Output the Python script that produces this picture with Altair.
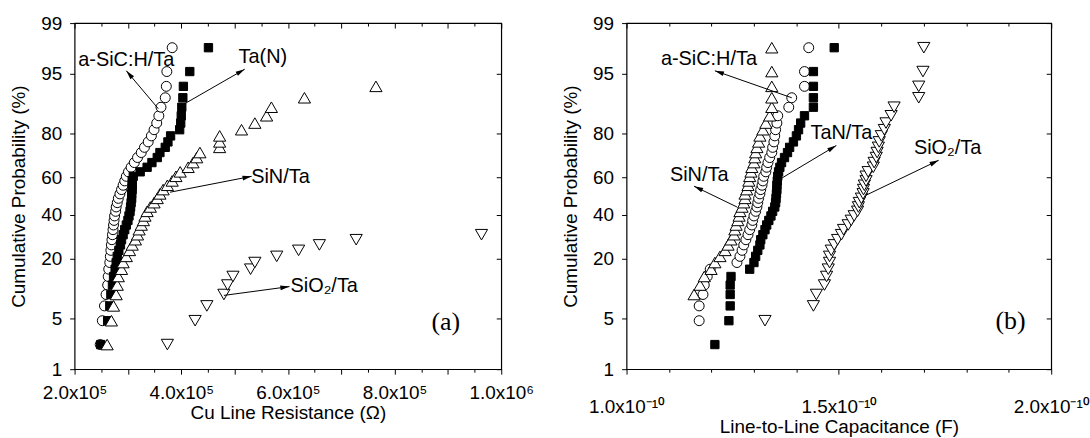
import math
from statistics import NormalDist
import altair as alt
import pandas as pd

ND = NormalDist()

# ---------------- data ----------------
# cumulative-probability levels (%) of the plotted ranks
P = [2.3, 4.7, 7.0, 9.3, 11.6, 14.0, 16.3, 18.6, 20.9, 23.3, 25.6, 27.9, 30.2, 32.6,
     34.9, 37.2, 39.5, 41.9, 44.2, 46.5, 48.8, 51.2, 53.5, 55.8, 58.1, 60.5, 62.8,
     65.1, 67.4, 69.8, 72.1, 74.4, 76.7, 79.1, 81.4, 83.7, 86.0, 88.4, 90.7, 93.0,
     95.3, 97.7]

# panel (a): Cu line resistance (ohm)
res_asich = [248000, 252000, 256000, 259000, 262000, 263000, 264000, 266000, 267000, 268000,
             269000, 270000, 271000, 272000, 273000, 274000, 275000, 277000, 278000, 280000,
             282000, 285000, 288000, 291000, 294000, 297000, 301000, 306000, 312000, 318000,
             325000, 331000, 338000, 344000, 349000, 354000, 358000, 362000, 370000, 372000,
             373000, 383000]
res_tan = [249000, 262000, 266000, 268000, 271000, 273000, 276000, 278000, 280000, 283000,
           286000, 288000, 291000, 294000, 297000, 300000, 302000, 304000, 305000, 306000,
           307000, 307000, 308000, 308000, 308000, 310000, 323000, 336000, 345000, 355000,
           360000, 370000, 375000, 380000, 397000, 399000, 400000, 401000, 403000, 404000,
           416000, 451000]
res_sin = [261000, 269000, 273000, 278000, 280000, 282000, 288000, 291000, 297000, 303000,
           308000, 314000, 318000, 321000, 325000, 329000, 332000, 336000, 342000, 349000,
           355000, 360000, 366000, 374000, 383000, 390000, 398000, 413000, 422000, 429000,
           435000, 472000, 472000, 472000, 513000, 538000, 560000, 569000, 631000, 765000]
res_sio2 = [374000, 426000, 448000, 480000, 487000, 497000, 530000, 538000, 579000, 620000,
            659000, 728000, 963000]

# panel (b): line-to-line capacitance (F)
cap_asich = [1.171e-10, 1.171e-10, 1.180e-10, 1.183e-10, 1.190e-10, 1.197e-10, 1.260e-10,
             1.267e-10, 1.272e-10, 1.276e-10, 1.281e-10, 1.286e-10, 1.290e-10, 1.295e-10,
             1.297e-10, 1.300e-10, 1.304e-10, 1.307e-10, 1.309e-10, 1.311e-10, 1.314e-10,
             1.316e-10, 1.319e-10, 1.321e-10, 1.323e-10, 1.328e-10, 1.330e-10, 1.333e-10,
             1.337e-10, 1.342e-10, 1.344e-10, 1.347e-10, 1.349e-10, 1.351e-10, 1.354e-10,
             1.356e-10, 1.382e-10, 1.389e-10, 1.419e-10, 1.419e-10, 1.429e-10]
cap_tan = [1.208e-10, 1.241e-10, 1.244e-10, 1.244e-10, 1.244e-10, 1.246e-10, 1.290e-10,
           1.300e-10, 1.304e-10, 1.309e-10, 1.314e-10, 1.316e-10, 1.321e-10, 1.326e-10,
           1.330e-10, 1.335e-10, 1.340e-10, 1.344e-10, 1.349e-10, 1.351e-10, 1.352e-10,
           1.353e-10, 1.354e-10, 1.354e-10, 1.355e-10, 1.356e-10, 1.358e-10, 1.361e-10,
           1.365e-10, 1.372e-10, 1.379e-10, 1.384e-10, 1.393e-10, 1.400e-10, 1.405e-10,
           1.410e-10, 1.419e-10, 1.440e-10, 1.440e-10, 1.440e-10, 1.440e-10, 1.489e-10]
cap_sin = [1.159e-10, 1.173e-10, 1.183e-10, 1.199e-10, 1.208e-10, 1.220e-10, 1.232e-10,
           1.239e-10, 1.246e-10, 1.253e-10, 1.255e-10, 1.258e-10, 1.262e-10, 1.265e-10,
           1.267e-10, 1.272e-10, 1.276e-10, 1.279e-10, 1.279e-10, 1.283e-10, 1.286e-10,
           1.288e-10, 1.290e-10, 1.293e-10, 1.295e-10, 1.300e-10, 1.302e-10, 1.304e-10,
           1.307e-10, 1.311e-10, 1.314e-10, 1.321e-10, 1.328e-10, 1.337e-10, 1.342e-10,
           1.342e-10, 1.342e-10, 1.342e-10, 1.342e-10]
cap_sio2 = [1.326e-10, 1.440e-10, 1.447e-10, 1.466e-10, 1.471e-10, 1.475e-10, 1.478e-10,
            1.478e-10, 1.482e-10, 1.489e-10, 1.497e-10, 1.506e-10, 1.511e-10, 1.522e-10,
            1.529e-10, 1.536e-10, 1.544e-10, 1.546e-10, 1.548e-10, 1.553e-10, 1.557e-10,
            1.558e-10, 1.560e-10, 1.564e-10, 1.564e-10, 1.569e-10, 1.581e-10, 1.583e-10,
            1.588e-10, 1.590e-10, 1.593e-10, 1.595e-10, 1.600e-10, 1.607e-10, 1.611e-10,
            1.623e-10, 1.630e-10, 1.688e-10, 1.688e-10, 1.698e-10, 1.700e-10]

# axis ticks
y_tick_pct = [1, 5, 20, 40, 60, 80, 95, 99]
x_ticks_a = [200000, 250000, 300000, 350000, 400000, 450000, 500000, 550000, 600000,
             650000, 700000, 750000, 800000, 850000, 900000, 950000, 1000000]
x_ticks_b = [1.0e-10, 1.1e-10, 1.2e-10, 1.3e-10, 1.4e-10, 1.5e-10, 1.6e-10, 1.7e-10,
             1.8e-10, 1.9e-10, 2.0e-10]

# annotations (label, x, probability %)
labels_a = [("a-SiC:H/Ta", 2.97e5, 96.6), ("Ta(N)", 5.53e5, 96.9),
            ("SiN/Ta", 5.86e5, 60.0), ("SiO\u2082/Ta", 6.68e5, 11.4)]
arrows_a = [(3.57e5, 88.0, 2.97e5, 95.4), (4.00e5, 88.8, 5.19e5, 95.6),
            (3.79e5, 52.1, 5.32e5, 60.5), (4.80e5, 9.1, 6.03e5, 11.2)]
tag_a = ("(a)", 8.96e5, 4.5)

labels_b = [("a-SiC:H/Ta", 1.194e-10, 96.7), ("SiN/Ta", 1.171e-10, 61.1),
            ("TaN/Ta", 1.506e-10, 80.0), ("SiO\u2082/Ta", 1.756e-10, 73.9)]
arrows_b = [(1.389e-10, 90.7, 1.208e-10, 95.4), (1.260e-10, 44.2, 1.159e-10, 55.3),
            (1.365e-10, 59.5, 1.494e-10, 75.2), (1.564e-10, 50.5, 1.735e-10, 68.5)]
tag_b = ("(b)", 1.904e-10, 4.6)

# ---------------- layout / style ----------------
H = 348
W_A, W_B = 429, 427
ZDOM = [ND.inv_cdf(0.01), ND.inv_cdf(0.99)]
YVALS = [ND.inv_cdf(v / 100) for v in y_tick_pct]
SANS = "Liberation Sans"
SERIF = "Liberation Serif"
FS = 19

KINDS = ["circle", "square", "up", "down"]
SHAPES = ["circle", "square", "triangle-up", "triangle-down"]
FILLS = ["white", "black", "white", "white"]
SIZES = [100, 70, 150, 150]
HEAD = "M0,0L0.6,2.3L-0.6,2.3Z"


def pts_frame(series):
    rows = []
    for kind, xs, ps in series:
        for x, p in zip(xs, ps):
            rows.append({"kind": kind, "x": x, "p": p})
    return pd.DataFrame(rows)


def arrow_frame(arrows, xdom, width):
    rows = []
    for x1, p1, x2, p2 in arrows:
        z1, z2 = ND.inv_cdf(p1 / 100), ND.inv_cdf(p2 / 100)
        dx = (x2 - x1) / (xdom[1] - xdom[0]) * width
        dy = -(z2 - z1) / (ZDOM[1] - ZDOM[0]) * H
        ang = math.degrees(math.atan2(dx, -dy)) % 360
        rows.append({"x": x1, "p": p1, "x2": x2, "p2": p2, "angle": ang})
    return pd.DataFrame(rows)


def panel(series, labels, arrows, tag, xdom, width, xticks, lab_expr, tick_expr,
          xtitle, xlabpad, xtitlepad):
    xs = alt.Scale(domain=xdom, nice=False, zero=False)
    ys = alt.Scale(domain=ZDOM, nice=False, zero=False)
    zcalc = "quantileNormal(datum.p/100)"
    base = alt.Chart(pts_frame(series)).transform_calculate(z=zcalc)

    pts = base.mark_point(filled=True, stroke="black", strokeWidth=1, opacity=1).encode(
        x=alt.X("x:Q", scale=xs,
                axis=alt.Axis(orient="bottom", values=xticks, labelExpr=lab_expr,
                              tickSize={"expr": tick_expr}, domain=False, grid=False,
                              labelFlush=False, labelOverlap=False,
                              title=xtitle, labelPadding=xlabpad, titlePadding=xtitlepad)),
        y=alt.Y("z:Q", scale=ys,
                axis=alt.Axis(orient="left", values=YVALS,
                              labelExpr="format(round(cumulativeNormal(datum.value)*100), 'd')",
                              tickSize=5, labelPadding=8, domain=False, grid=False,
                              labelFlush=False, labelOverlap=False,
                              title="Cumulative Probability (%)", titlePadding=12)),
        shape=alt.Shape("kind:N", scale=alt.Scale(domain=KINDS, range=SHAPES), legend=None),
        fill=alt.Fill("kind:N", scale=alt.Scale(domain=KINDS, range=FILLS), legend=None),
        size=alt.Size("kind:N", scale=alt.Scale(type="ordinal", domain=KINDS, range=SIZES),
                      legend=None),
    )

    mirror = base.mark_point(opacity=0).encode(
        x=alt.X("x:Q", scale=xs,
                axis=alt.Axis(orient="top", values=xticks, labels=False, domain=False,
                              grid=False, title="",
                              tickSize={"expr": "-(" + tick_expr + ")"})),
        y=alt.Y("z:Q", scale=ys,
                axis=alt.Axis(orient="right", values=YVALS, labels=False, domain=False,
                              grid=False, title="", tickSize={"expr": "-5"})),
    )

    arr = alt.Chart(arrow_frame(arrows, xdom, width)).transform_calculate(
        z=zcalc, z2="quantileNormal(datum.p2/100)")
    lines = arr.mark_rule(color="black", strokeWidth=1).encode(
        x=alt.X("x:Q", scale=xs, axis=None), x2="x2:Q",
        y=alt.Y("z:Q", scale=ys, axis=None), y2="z2:Q")
    heads = arr.mark_point(shape=HEAD, filled=True, color="black", size=64, opacity=1).encode(
        x=alt.X("x2:Q", scale=xs, axis=None),
        y=alt.Y("z2:Q", scale=ys, axis=None),
        angle=alt.Angle("angle:Q", scale=None))

    lab_df = pd.DataFrame([{"t": t, "x": x, "p": p} for t, x, p in labels])
    texts = alt.Chart(lab_df).transform_calculate(z=zcalc).mark_text(
        font=SANS, fontSize=20, align="center", baseline="middle", color="black").encode(
        x=alt.X("x:Q", scale=xs, axis=None), y=alt.Y("z:Q", scale=ys, axis=None), text="t:N")

    tag_df = pd.DataFrame([{"t": tag[0], "x": tag[1], "p": tag[2]}])
    tagm = alt.Chart(tag_df).transform_calculate(z=zcalc).mark_text(
        font=SERIF, fontSize=26, align="center", baseline="middle", color="black").encode(
        x=alt.X("x:Q", scale=xs, axis=None), y=alt.Y("z:Q", scale=ys, axis=None), text="t:N")

    return alt.layer(pts, mirror, lines, heads, texts, tagm).resolve_axis(
        x="independent", y="independent").properties(width=width, height=H)


panel_a = panel(
    [("circle", res_asich, P), ("square", res_tan, P),
     ("up", res_sin, P[:len(res_sin)]), ("down", res_sio2, P[:len(res_sio2)])],
    labels_a, arrows_a, tag_a, [200000, 1000000], W_A, x_ticks_a,
    "datum.value % 200000 === 0 ? (datum.value < 999999 ? format(datum.value/100000, '.1f') + 'x10\u2075' : format(datum.value/1000000, '.1f') + 'x10\u2076') : ''",
    "datum.value % 100000 === 0 ? 5 : 3",
    "Cu Line Resistance (\u03a9)", 9, 2)

panel_b = panel(
    [("circle", cap_asich, P[1:]), ("square", cap_tan, P),
     ("up", cap_sin, P[3:]), ("down", cap_sio2, P[1:])],
    labels_b, arrows_b, tag_b, [1.0e-10, 2.0e-10], W_B, x_ticks_b,
    "abs(datum.value*2e10 - round(datum.value*2e10)) < 1e-6 ? format(datum.value*1e10, '.1f') + 'x10\u207b\u00b9\u2070' : ''",
    "abs(datum.value*2e10 - round(datum.value*2e10)) < 1e-6 ? 5 : 3",
    "Line-to-Line Capacitance (F)", 24, 1)

chart = alt.hconcat(panel_a, panel_b, spacing=126, bounds="flush").properties(
    padding={"left": 9, "top": 12, "right": 0, "bottom": 0},
    background="white",
).configure_view(stroke="black", strokeWidth=1.2).configure_axis(
    labelFont=SANS, titleFont=SANS, labelFontSize=FS, titleFontSize=19,
    titleFontWeight="normal", labelColor="black", titleColor="black",
    tickColor="black", tickWidth=1,
)

chart.save("out.html", embed_options={"renderer": "svg", "actions": False})
